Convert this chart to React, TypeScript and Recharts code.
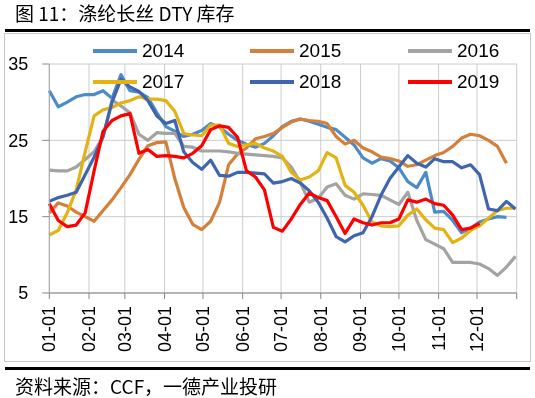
import { CartesianGrid, Legend, Line, LineChart, XAxis, YAxis } from "recharts"

// week offsets (days from 01-01) where values were read
const weekDays = [
  0, 7, 14, 21, 28, 35, 42, 49, 56, 63, 70, 77, 84, 91, 98, 105, 112, 119, 126, 133, 140, 147, 154, 161, 168, 175,
  182, 189, 196, 203, 210, 217, 224, 231, 238, 245, 252, 259, 266, 273, 280, 287, 294, 301, 308, 315, 322, 329, 336,
  343, 350, 357, 364,
]

const monthStarts = [0, 31, 59, 90, 120, 151, 181, 212, 243, 273, 304, 334, 365]
const monthLabels = ["01-01", "02-01", "03-01", "04-01", "05-01", "06-01", "07-01", "08-01", "09-01", "10-01", "11-01", "12-01", ""]
const yTicks = [5, 15, 25, 35]

const y2014 = [
  31.5, 29.4, 30.0, 30.7, 31.0, 31.0, 31.5, 30.5, 33.6, 31.5, 31.3, 30.6, 28.6, 26.8, 26.2, 25.5, 25.8, 26.3, 27.2,
  26.7, 25.8, 25.0, 24.5, 24.1, 24.6, 25.6, 26.8, 27.5, 27.8, 27.5, 27.1, 26.7, 26.4, 25.4, 24.4, 22.7, 22.0, 22.6,
  22.3, 21.4, 19.6, 18.8, 20.8, 15.6, 15.7, 14.5, 12.9, 13.5, 14.3, 14.7, 15.0, 14.9, null,
]
const y2015 = [
  15.5, 16.8, 16.4, 15.6, 15.0, 14.4, 15.8, 17.2, 18.8, 20.5, 22.5, 24.3, 24.7, 24.8, 20.0, 16.2, 14.0, 13.3, 14.4,
  16.9, 21.8, 23.2, 24.0, 25.2, 25.5, 25.9, 26.7, 27.4, 27.8, 27.6, 27.5, 27.2, 25.5, 24.5, 25.0, 24.0, 23.5, 22.8,
  22.6, 22.3, 21.6, 21.8, 22.4, 23.0, 23.4, 24.2, 25.3, 25.8, 25.6, 25.0, 24.2, 22.0, null,
]
const y2016 = [
  21.1, 21.0, 21.0, 21.5, 22.5, 23.5, 25.5, 30.3, 29.5, 28.6, 25.8, 25.0, 26.0, 25.9, 25.9, 24.2, 24.1, 23.6, 23.6,
  23.6, 23.5, 23.3, 23.2, 23.1, 23.0, 22.9, 22.7, 21.5, 19.5, 16.9, 17.4, 18.9, 19.3, 17.8, 17.3, 18.0, 17.9, 17.8,
  17.2, 16.6, 18.2, 14.5, 12.0, 11.4, 10.8, 9.0, 9.0, 9.0, 8.8, 8.2, 7.3, 8.4, 9.8,
]
const y2017 = [
  12.6, 13.2, 15.5, 18.5, 23.5, 28.2, 29.0, 29.3, 29.9, 30.2, 30.7, 30.4, 30.4, 30.2, 28.8, 25.9, 25.7, 25.6, 27.0,
  27.0, 24.6, 24.2, 24.4, 24.6, 24.0, 23.6, 22.9, 20.8, 19.8, 20.2, 21.0, 23.4, 22.7, 19.1, 18.2, 16.5, 14.3, 13.8,
  13.7, 13.8, 15.2, 16.0, 14.6, 13.5, 13.3, 11.6, 12.2, 13.2, 13.8, 14.8, 15.8, 16.1, 16.1,
]
const y2018 = [
  17.0, 17.5, 17.8, 18.2, 20.5, 22.8, 25.5, 30.0, 33.0, 32.0, 31.4, 30.2, 28.2, 27.2, 27.6, 23.5, 22.1, 21.2, 22.4,
  20.4, 20.3, 20.8, 20.8, 20.7, 20.6, 19.4, 19.6, 20.0, 19.4, 18.4, 16.9, 14.8, 12.4, 11.7, 12.5, 12.9, 15.0, 17.8,
  20.0, 21.5, 23.0, 22.0, 21.5, 22.6, 22.2, 22.2, 21.4, 21.8, 20.5, 16.0, 15.8, 17.0, 16.0,
]
const y2019 = [
  16.7, 14.5, 13.7, 13.9, 15.5, 21.0, 26.2, 27.6, 28.2, 28.5, 23.3, 23.8, 22.9, 23.0, 22.9, 22.7, 23.3, 24.3, 26.4,
  26.9, 26.7, 25.4, 21.0, 20.2, 18.5, 13.6, 13.1, 14.7, 16.6, 18.1, 17.5, 17.1, 15.0, 12.8, 14.7, 14.2, 13.9, 14.2,
  14.2, 14.7, 17.2, 16.9, 17.3, 16.7, 16.5, 15.2, 13.3, 13.5, 14.1, null, null, null, null,
]

const seriesList = [
  { key: "2014", values: y2014, color: "#4B8BC8" },
  { key: "2015", values: y2015, color: "#D47F3A" },
  { key: "2016", values: y2016, color: "#A3A3A3" },
  { key: "2017", values: y2017, color: "#E3B312" },
  { key: "2018", values: y2018, color: "#3F65AF" },
  { key: "2019", values: y2019, color: "#FF0000" },
]

const chartData = weekDays.map((day, i) => {
  const row: Record<string, number | null> = { day }
  seriesList.forEach((s) => {
    row[s.key] = s.values[i] ?? null
  })
  return row
})

const legendCols = [93, 250, 408]
const legendRows = [15, 46]

function renderLegend() {
  return (
    <div style={{ position: "relative", width: 535, height: 60 }}>
      {seriesList.map((s, i) => (
        <div
          key={s.key}
          style={{
            position: "absolute",
            left: legendCols[i % 3],
            top: legendRows[Math.floor(i / 3)] - 12,
            height: 24,
            display: "flex",
            alignItems: "center",
          }}
        >
          <div style={{ width: 44, height: 3.5, background: s.color }} />
          <span style={{ marginLeft: 5, fontSize: 19, color: "#000" }}>{s.key}</span>
        </div>
      ))}
    </div>
  )
}

function MonthTick({ x, y, payload }: any) {
  const label = monthLabels[monthStarts.indexOf(payload.value)]
  if (!label) return null
  const ty = y + 5
  return (
    <text
      x={x}
      y={ty}
      transform={`rotate(-90, ${x}, ${ty})`}
      textAnchor="end"
      dominantBaseline="central"
      fontSize={18}
      fill="#000"
    >
      {label}
    </text>
  )
}

export default function App() {
  return (
    <div
      style={{
        position: "fixed",
        left: 0,
        top: 0,
        width: 535,
        height: 398,
        background: "#fff",
        fontFamily: "'Liberation Sans', Arial, sans-serif",
      }}
    >
      <div
        style={{
          position: "absolute",
          left: 15,
          top: 3,
          fontSize: 19,
          lineHeight: "19px",
          fontFamily: "'Noto Sans CJK SC', sans-serif",
          whiteSpace: "nowrap",
        }}
      >
        图 11：涤纶长丝 DTY 库存
      </div>
      <div style={{ position: "absolute", left: 5, top: 29, width: 525, height: 3, background: "#000" }} />
      <div
        style={{
          position: "absolute",
          left: 4,
          top: 33,
          width: 525,
          height: 327,
          border: "1px solid #c8c8c8",
        }}
      />
      <div style={{ position: "absolute", left: 5, top: 367, width: 525, height: 3, background: "#000" }} />
      <div
        style={{
          position: "absolute",
          left: 15,
          top: 376,
          fontSize: 19,
          lineHeight: "19px",
          fontFamily: "'Noto Sans CJK SC', sans-serif",
          whiteSpace: "nowrap",
        }}
      >
        资料来源：CCF，一德产业投研
      </div>

      <div style={{ position: "absolute", left: 0, top: 0 }}>
        <LineChart
          width={535}
          height={398}
          data={chartData}
          margin={{ top: 64, right: 18.3, bottom: 45, left: 4.3 }}
        >
          <CartesianGrid horizontal={{ stroke: "#d9d9d9" }} vertical={{ stroke: "#a6a6a6" }} />
          <XAxis
            dataKey="day"
            type="number"
            domain={[0, 365]}
            ticks={monthStarts}
            interval={0}
            height={60}
            tickSize={6}
            tick={<MonthTick />}
            axisLine={{ stroke: "#868686" }}
            tickLine={{ stroke: "#868686" }}
          />
          <YAxis
            type="number"
            domain={[5, 35]}
            ticks={yTicks}
            interval={0}
            width={45}
            tickSize={7}
            tickMargin={14}
            tick={{ fill: "#000", fontSize: 18 }}
            axisLine={{ stroke: "#a6a6a6" }}
            tickLine={{ stroke: "#868686" }}
          />
          <Legend
            layout="vertical"
            align="center"
            verticalAlign="middle"
            content={renderLegend}
            wrapperStyle={{ top: 36, left: 0, width: 535 }}
          />
          {seriesList.map((s) => (
            <Line
              key={s.key}
              type="linear"
              dataKey={s.key}
              name={s.key}
              stroke={s.color}
              strokeWidth={3.2}
              strokeLinejoin="round"
              dot={false}
              activeDot={false}
              isAnimationActive={false}
            />
          ))}
        </LineChart>
      </div>
    </div>
  )
}
